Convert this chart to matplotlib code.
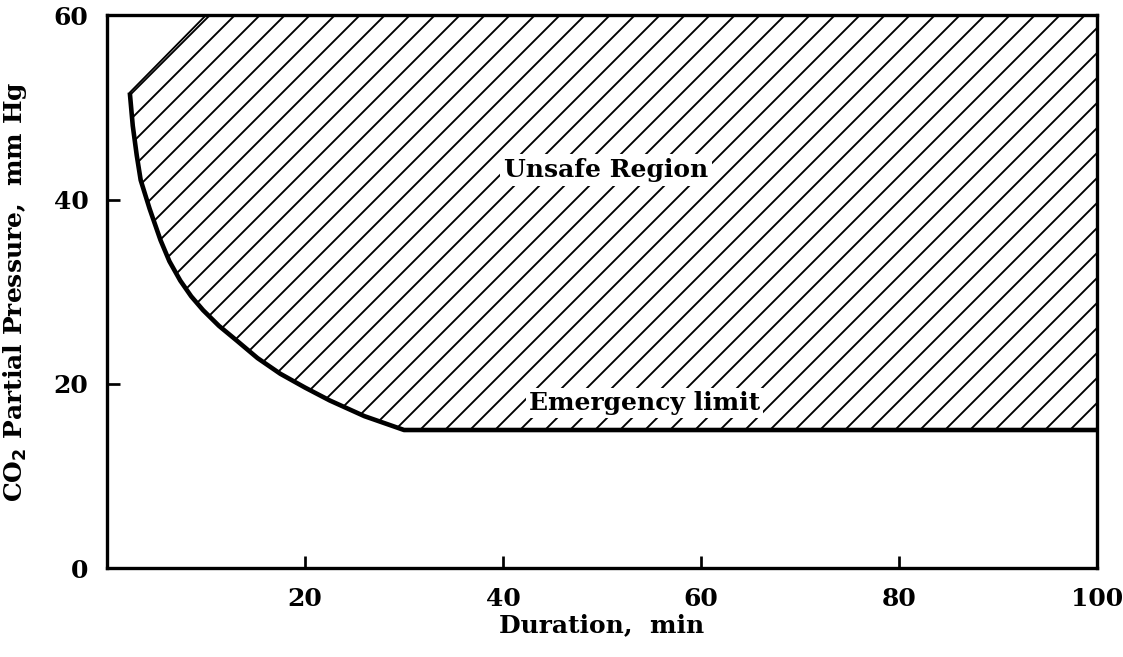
import matplotlib
matplotlib.use("Agg")
import matplotlib.pyplot as plt

# DATA
limit_duration = [2.3, 2.6, 3.0, 3.4, 4.3, 5.4, 6.3, 7.4, 8.5, 9.7, 11.3, 13.1,
                  15.2, 17.5, 20.0, 22.5, 26.0, 30.0, 100.0]
limit_pressure = [51.6, 48.0, 44.8, 42.1, 39.0, 35.6, 33.3, 31.2, 29.5, 28.0, 26.3, 24.7,
                  22.8, 21.1, 19.6, 18.2, 16.5, 15.0, 15.0]
region_corner = [10.0, 60.0]  # where the cut-off top-left edge of the hatched area meets the top
x_ticks = [20, 40, 60, 80, 100]
y_ticks = [0, 20, 40, 60]

DPI = 150
plt.rcParams['font.family'] = ['DejaVu Serif']
plt.rcParams['font.weight'] = 'bold'
plt.rcParams['hatch.linewidth'] = 0.9
plt.rcParams['hatch.color'] = 'black'

fig = plt.figure(figsize=(1123 / DPI, 657 / DPI), dpi=DPI)
ax = fig.add_axes([0.0953, 0.135, 0.977 - 0.0953, 0.977 - 0.135])

# hatched unsafe region: curve, then right edge, top edge, back to the corner
poly_x = limit_duration + [100.0, region_corner[0]]
poly_y = limit_pressure + [60.0, region_corner[1]]
ax.fill(poly_x, poly_y, facecolor='white', edgecolor='black', hatch='//', linewidth=0)
ax.plot([limit_duration[0], region_corner[0]], [limit_pressure[0], region_corner[1]],
        color='black', lw=0.9)

# the emergency limit curve
ax.plot(limit_duration, limit_pressure, color='black', lw=2.2, solid_capstyle='butt',
        solid_joinstyle='round')

ax.text(50.4, 43.2, "Unsafe Region", fontsize=12, fontweight='bold', ha='center', va='center',
        bbox=dict(facecolor='white', edgecolor='none', pad=2))
ax.text(54.3, 17.9, "Emergency limit", fontsize=12, fontweight='bold', ha='center', va='center',
        bbox=dict(facecolor='white', edgecolor='none', pad=1.5))

ax.set_xlim(0, 100)
ax.set_ylim(0, 60)
ax.set_xticks(x_ticks)
ax.set_yticks(y_ticks)
ax.tick_params(direction='in', length=6, width=1.3, labelsize=12, pad=9)
for lab in ax.get_xticklabels() + ax.get_yticklabels():
    lab.set_fontweight('bold')
for sp in ax.spines.values():
    sp.set_linewidth(1.6)

ax.set_xlabel("Duration,  min", fontsize=12, fontweight='bold', labelpad=1)
ax.set_ylabel("CO$_\\mathbf{2}$ Partial Pressure,  mm Hg", fontsize=12, fontweight='bold', labelpad=12)

fig.savefig("out.png", dpi=DPI)
